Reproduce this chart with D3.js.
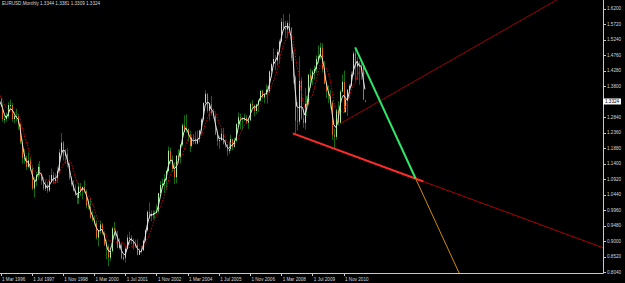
<!DOCTYPE html>
<html>
<head>
<meta charset="utf-8">
<script src="https://cdn.jsdelivr.net/npm/d3@7"></script>
<style>
  html, body { margin: 0; padding: 0; background: #000; }
  svg { display: block; }
  text { font-family: 'Liberation Sans', Arial, sans-serif; font-size: 4.6px; fill: #d8d8d8; }
</style>
</head>
<body>
<svg id="chart"></svg>
<script>
const title = 'EURUSD,Monthly  1.3344 1.3381 1.3309 1.3324'

// bar index 0 = Mar 1996, first bar in the arrays is Sep 1995
const firstIndex = -6

// monthly OHLC, Sep 1995 .. Oct 2011
const opens = [
  1.330, 1.368, 1.387, 1.358, // 1995
  1.358, 1.322, 1.340, 1.321, 1.278, 1.278, 1.287, 1.321, 1.321, 1.278, 1.287, 1.287, // 1996
  1.262, 1.207, 1.157, 1.157, 1.130, 1.150, 1.124, 1.063, 1.087, 1.105, 1.130, 1.105, // 1997
  1.087, 1.063, 1.075, 1.057, 1.087, 1.105, 1.087, 1.093, 1.118, 1.175, 1.205, 1.165, // 1998
  1.171, 1.1385, 1.0963, 1.0760, 1.0575, 1.0428, 1.0340, 1.0695, 1.0565, 1.0680, 1.0550, 1.0100, // 1999
  1.0065, 0.9720, 0.9660, 0.9565, 0.9110, 0.9330, 0.9525, 0.9255, 0.8895, 0.8830, 0.8490, 0.8700, // 2000
  0.9400, 0.9330, 0.9200, 0.8800, 0.8890, 0.8470, 0.8490, 0.8770, 0.9110, 0.9110, 0.9010, 0.8900, // 2001
  0.8900, 0.8580, 0.8700, 0.8720, 0.9020, 0.9340, 0.9910, 0.9780, 0.9810, 0.9870, 0.9880, 0.9920, // 2002
  1.0490, 1.0740, 1.0780, 1.0910, 1.1170, 1.1800, 1.1500, 1.1240, 1.0980, 1.1650, 1.1600, 1.1990, // 2003
  1.2590, 1.2470, 1.2470, 1.2300, 1.1950, 1.2200, 1.2170, 1.2020, 1.2170, 1.2430, 1.2770, 1.3280, // 2004
  1.3560, 1.3040, 1.3250, 1.2960, 1.2870, 1.2300, 1.2100, 1.2130, 1.2330, 1.2020, 1.1990, 1.1790, // 2005
  1.1850, 1.2160, 1.1920, 1.2110, 1.2630, 1.2830, 1.2790, 1.2770, 1.2820, 1.2670, 1.2740, 1.3250, // 2006
  1.3200, 1.3030, 1.3230, 1.3350, 1.3650, 1.3450, 1.3540, 1.3690, 1.3630, 1.4260, 1.4480, 1.4640, // 2007
  1.4590, 1.4860, 1.5180, 1.5790, 1.5600, 1.5550, 1.5750, 1.5600, 1.4670, 1.4080, 1.2730, 1.2700, // 2008
  1.3970, 1.2800, 1.2660, 1.3250, 1.3240, 1.4150, 1.4030, 1.4250, 1.4330, 1.4640, 1.4720, 1.4990, // 2009
  1.4320, 1.3870, 1.3630, 1.3510, 1.3300, 1.2290, 1.2230, 1.3050, 1.2670, 1.3630, 1.3930, 1.3000, // 2010
  1.3380, 1.3690, 1.3810, 1.4160, 1.4810, 1.4400, 1.4500, 1.4390, 1.4380, 1.3344 // 2011
]
const highs = [
  1.380, 1.405, 1.395, 1.372,
  1.365, 1.352, 1.345, 1.328, 1.292, 1.298, 1.330, 1.338, 1.328, 1.300, 1.310, 1.295,
  1.265, 1.215, 1.185, 1.165, 1.175, 1.160, 1.130, 1.098, 1.115, 1.140, 1.148, 1.112,
  1.098, 1.090, 1.085, 1.105, 1.125, 1.115, 1.110, 1.130, 1.185, 1.235, 1.210, 1.185,
  1.1886, 1.1440, 1.1000, 1.0890, 1.0760, 1.0500, 1.0800, 1.0800, 1.0700, 1.0880, 1.0600, 1.0300,
  1.0340, 0.9950, 0.9800, 0.9650, 0.9350, 0.9640, 0.9560, 0.9280, 0.9050, 0.8900, 0.8720, 0.9450,
  0.9593, 0.9400, 0.9330, 0.9100, 0.8950, 0.8600, 0.8850, 0.9200, 0.9300, 0.9190, 0.9080, 0.9050,
  0.9060, 0.8780, 0.8850, 0.9050, 0.9370, 0.9950, 1.0196, 0.9950, 0.9960, 0.9950, 1.0140, 1.0500,
  1.0860, 1.0940, 1.1080, 1.1200, 1.1933, 1.1900, 1.1650, 1.1450, 1.1650, 1.1850, 1.2000, 1.2648,
  1.2900, 1.2929, 1.2490, 1.2420, 1.2300, 1.2310, 1.2400, 1.2420, 1.2440, 1.2810, 1.3300, 1.3667,
  1.3580, 1.3280, 1.3500, 1.3100, 1.2950, 1.2460, 1.2260, 1.2500, 1.2510, 1.2160, 1.2000, 1.2090,
  1.2290, 1.2170, 1.2200, 1.2640, 1.2980, 1.2950, 1.2840, 1.2940, 1.2900, 1.2780, 1.3290, 1.3366,
  1.3230, 1.3250, 1.3380, 1.3680, 1.3680, 1.3550, 1.3850, 1.3800, 1.4280, 1.4530, 1.4967, 1.4760,
  1.4950, 1.5240, 1.5900, 1.6020, 1.5820, 1.5820, 1.6038, 1.5620, 1.4870, 1.4130, 1.3300, 1.4719,
  1.4070, 1.3050, 1.3738, 1.3500, 1.4180, 1.4340, 1.4300, 1.4440, 1.4750, 1.5060, 1.5144, 1.5130,
  1.4580, 1.3960, 1.3820, 1.3690, 1.3350, 1.2480, 1.3100, 1.3330, 1.3690, 1.4160, 1.4282, 1.3500,
  1.3700, 1.3860, 1.4250, 1.4880, 1.4940, 1.4698, 1.4580, 1.4549, 1.4420, 1.3381
]
const lows = [
  1.320, 1.360, 1.350, 1.345,
  1.310, 1.315, 1.315, 1.270, 1.265, 1.270, 1.280, 1.305, 1.270, 1.265, 1.270, 1.245,
  1.200, 1.140, 1.140, 1.120, 1.125, 1.118, 1.058, 1.035, 1.070, 1.090, 1.100, 1.075,
  1.058, 1.055, 1.050, 1.052, 1.080, 1.078, 1.078, 1.080, 1.110, 1.160, 1.150, 1.140,
  1.1290, 1.0890, 1.0700, 1.0540, 1.0400, 1.0150, 1.0150, 1.0400, 1.0300, 1.0500, 1.0020, 0.9990,
  0.9700, 0.9600, 0.9500, 0.9050, 0.8844, 0.9230, 0.9200, 0.8850, 0.8450, 0.8228, 0.8400, 0.8650,
  0.9150, 0.9050, 0.8780, 0.8740, 0.8440, 0.8400, 0.8344, 0.8750, 0.8900, 0.8900, 0.8750, 0.8800,
  0.8564, 0.8580, 0.8620, 0.8700, 0.8990, 0.9300, 0.9690, 0.9620, 0.9670, 0.9700, 0.9860, 0.9870,
  1.0350, 1.0670, 1.0500, 1.0630, 1.1160, 1.1400, 1.1150, 1.0770, 1.0800, 1.1560, 1.1400, 1.1930,
  1.2380, 1.2360, 1.2080, 1.1760, 1.1900, 1.2000, 1.2000, 1.2000, 1.2060, 1.2300, 1.2700, 1.3200,
  1.2980, 1.2730, 1.2880, 1.2790, 1.2300, 1.1950, 1.1860, 1.2100, 1.1990, 1.1880, 1.1640, 1.1700,
  1.1800, 1.1820, 1.1900, 1.2060, 1.2600, 1.2460, 1.2450, 1.2720, 1.2630, 1.2480, 1.2730, 1.3100,
  1.2860, 1.2940, 1.3000, 1.3320, 1.3410, 1.3270, 1.3530, 1.3260, 1.3580, 1.4070, 1.4450, 1.4290,
  1.4440, 1.4510, 1.5140, 1.5520, 1.5290, 1.5300, 1.5550, 1.4580, 1.3880, 1.2330, 1.2420, 1.2600,
  1.2760, 1.2510, 1.2456, 1.2880, 1.3200, 1.3750, 1.3840, 1.4000, 1.4200, 1.4500, 1.4630, 1.4220,
  1.3860, 1.3430, 1.3270, 1.3110, 1.2140, 1.1876, 1.2150, 1.2580, 1.2640, 1.3600, 1.2970, 1.2970,
  1.2870, 1.3440, 1.3750, 1.4120, 1.3970, 1.4000, 1.3840, 1.4000, 1.3362, 1.3309
]
const closes = [
  1.368, 1.387, 1.358, 1.358,
  1.322, 1.340, 1.321, 1.278, 1.278, 1.287, 1.321, 1.321, 1.278, 1.287, 1.287, 1.262,
  1.207, 1.157, 1.157, 1.130, 1.150, 1.124, 1.063, 1.087, 1.105, 1.130, 1.105, 1.087,
  1.063, 1.075, 1.057, 1.087, 1.105, 1.087, 1.093, 1.118, 1.175, 1.205, 1.165, 1.171,
  1.1385, 1.0963, 1.0760, 1.0575, 1.0428, 1.0340, 1.0695, 1.0565, 1.0680, 1.0550, 1.0100, 1.0065,
  0.9720, 0.9660, 0.9565, 0.9110, 0.9330, 0.9525, 0.9255, 0.8895, 0.8830, 0.8490, 0.8700, 0.9400,
  0.9330, 0.9200, 0.8800, 0.8890, 0.8470, 0.8490, 0.8770, 0.9110, 0.9110, 0.9010, 0.8900, 0.8900,
  0.8580, 0.8700, 0.8720, 0.9020, 0.9340, 0.9910, 0.9780, 0.9810, 0.9870, 0.9880, 0.9920, 1.0490,
  1.0740, 1.0780, 1.0910, 1.1170, 1.1800, 1.1500, 1.1240, 1.0980, 1.1650, 1.1600, 1.1990, 1.2590,
  1.2470, 1.2470, 1.2300, 1.1950, 1.2200, 1.2170, 1.2020, 1.2170, 1.2430, 1.2770, 1.3280, 1.3560,
  1.3040, 1.3250, 1.2960, 1.2870, 1.2300, 1.2100, 1.2130, 1.2330, 1.2020, 1.1990, 1.1790, 1.1850,
  1.2160, 1.1920, 1.2110, 1.2630, 1.2830, 1.2790, 1.2770, 1.2820, 1.2670, 1.2740, 1.3250, 1.3200,
  1.3030, 1.3230, 1.3350, 1.3650, 1.3450, 1.3540, 1.3690, 1.3630, 1.4260, 1.4480, 1.4640, 1.4590,
  1.4860, 1.5180, 1.5790, 1.5600, 1.5550, 1.5750, 1.5600, 1.4670, 1.4080, 1.2730, 1.2700, 1.3970,
  1.2800, 1.2660, 1.3250, 1.3240, 1.4150, 1.4030, 1.4250, 1.4330, 1.4640, 1.4720, 1.4990, 1.4320,
  1.3870, 1.3630, 1.3510, 1.3300, 1.2290, 1.2230, 1.3050, 1.2670, 1.3630, 1.3930, 1.3000, 1.3380,
  1.3690, 1.3810, 1.4160, 1.4810, 1.4400, 1.4500, 1.4390, 1.4380, 1.3390, 1.3324
]
const currentPrice = 1.3324

// moving average periods (white = fast, red dotted = slow)
const fastPeriod = 3
const slowPeriod = 7

// time axis labels and their bar index
const dateLabels = ['1 Mar 1996', '1 Jul 1997', '1 Nov 1998', '1 Mar 2000', '1 Jul 2001', '1 Nov 2002',
  '1 Mar 2004', '1 Jul 2005', '1 Nov 2006', '1 Mar 2008', '1 Jul 2009', '1 Nov 2010']
const dateIndex = [0, 16, 32, 48, 64, 80, 96, 112, 128, 144, 160, 176]

// price axis labels (1.3320 sits under the current price box, so it is not shown)
const priceTicks = [1.6200, 1.5720, 1.5240, 1.4760, 1.4280, 1.3800, 1.2840, 1.2360, 1.1880,
  1.1400, 1.0920, 1.0440, 0.9960, 0.9480, 0.9000, 0.8520, 0.8040]

// drawn trend lines, [bar index, price]
const supportThick = [[150, 1.2339], [217, 1.0849]]
const supportThin = [[217, 1.0849], [310, 0.8781]]
const fallLine = [[182, 1.5000], [213, 1.0941]]
const fallRay = [[213, 1.0941], [236, 0.7930]]
const riseLine = [[174, 1.2627], [290, 1.6624]]

const width = 625, height = 283
const plotRight = 603, plotBottom = 273

let svg = d3.select('#chart')
  .attr('width', width)
  .attr('height', height)
  .style('background', '#000')

let x = d3.scaleLinear().domain([0, 176]).range([0.5, 343.5])
let y = d3.scaleLinear().domain([0.8040, 1.6200]).range([272.3, 8.5])

svg.append('clipPath').attr('id', 'plot')
  .append('rect').attr('x', 0).attr('y', 0).attr('width', plotRight).attr('height', plotBottom)

let bars = closes.map((c, i) => ({
  i: i + firstIndex,
  o: opens[i], h: highs[i], l: lows[i], c: c
}))

let plot = svg.append('g').attr('clip-path', 'url(#plot)')

// wicks
plot.selectAll('line.wick')
  .data(bars)
  .enter()
  .append('line')
  .attr('class', 'wick')
  .attr('x1', d => Math.round(x(d.i)) + 0.5)
  .attr('x2', d => Math.round(x(d.i)) + 0.5)
  .attr('y1', d => y(d.h))
  .attr('y2', d => y(d.l))
  .attr('stroke', '#0f6a12')
  .attr('stroke-width', 1)

// bodies
plot.selectAll('rect.body')
  .data(bars)
  .enter()
  .append('rect')
  .attr('class', 'body')
  .attr('x', d => Math.round(x(d.i)))
  .attr('y', d => y(Math.max(d.o, d.c)))
  .attr('width', 1)
  .attr('height', d => Math.max(1, Math.abs(y(d.o) - y(d.c))))
  .attr('fill', d => d.c >= d.o ? '#a8eca0' : '#e0621c')

// simple moving average of closes
function sma (period) {
  let out = []
  closes.forEach((c, i) => {
    if (i >= period - 1) {
      out.push({ i: i + firstIndex, v: d3.mean(closes.slice(i - period + 1, i + 1)) })
    }
  })
  return out
}

let maLine = d3.line().x(d => x(d.i)).y(d => y(d.v))

plot.append('path')
  .datum(sma(slowPeriod))
  .attr('d', maLine)
  .attr('fill', 'none')
  .attr('stroke', '#d40000')
  .attr('stroke-width', 1)
  .attr('stroke-dasharray', '1.5,1.5')

plot.append('path')
  .datum(sma(fastPeriod))
  .attr('d', maLine)
  .attr('fill', 'none')
  .attr('stroke', '#e4e4e4')
  .attr('stroke-width', 1)

// trend lines
let segLine = d3.line().x(d => x(d[0])).y(d => y(d[1]))
function drawSeg (pts, color, w) {
  plot.append('path')
    .datum(pts)
    .attr('d', segLine)
    .attr('fill', 'none')
    .attr('stroke', color)
    .attr('stroke-width', w)
}
drawSeg(riseLine, '#a00000', 1)
drawSeg(supportThin, '#b00000', 1)
drawSeg(fallRay, '#d08a00', 1)
drawSeg(supportThick, '#ff2b2b', 2)
drawSeg(fallLine, '#2ee86a', 2)

// frame
svg.append('line')
  .attr('x1', plotRight + 0.5).attr('x2', plotRight + 0.5)
  .attr('y1', 0).attr('y2', plotBottom + 0.5)
  .attr('stroke', '#c8c8c8')
svg.append('line')
  .attr('x1', 0).attr('x2', plotRight + 0.5)
  .attr('y1', plotBottom + 0.5).attr('y2', plotBottom + 0.5)
  .attr('stroke', '#c8c8c8')

// price axis
let priceAxis = svg.append('g')
priceAxis.selectAll('line')
  .data(priceTicks)
  .enter()
  .append('line')
  .attr('x1', plotRight + 1).attr('x2', plotRight + 3)
  .attr('y1', d => Math.round(y(d)) + 0.5)
  .attr('y2', d => Math.round(y(d)) + 0.5)
  .attr('stroke', '#c8c8c8')
priceAxis.selectAll('text')
  .data(priceTicks)
  .enter()
  .append('text')
  .attr('x', plotRight + 4)
  .attr('y', d => y(d) + 1.7)
  .text(d => d.toFixed(4))

// current price box
svg.append('rect')
  .attr('x', plotRight)
  .attr('y', y(currentPrice) - 3)
  .attr('width', 18)
  .attr('height', 6)
  .attr('fill', '#fff')
svg.append('text')
  .attr('x', plotRight + 2)
  .attr('y', y(currentPrice) + 1.7)
  .style('fill', '#000')
  .text(currentPrice.toFixed(4))

// time axis
let timeAxis = svg.append('g')
timeAxis.selectAll('line')
  .data(dateIndex)
  .enter()
  .append('line')
  .attr('x1', d => Math.round(x(d)) + 0.5)
  .attr('x2', d => Math.round(x(d)) + 0.5)
  .attr('y1', plotBottom)
  .attr('y2', plotBottom + 3)
  .attr('stroke', '#c8c8c8')
timeAxis.selectAll('text')
  .data(dateLabels)
  .enter()
  .append('text')
  .attr('x', (d, i) => x(dateIndex[i]) + 1.5)
  .attr('y', 281)
  .text(d => d)

// title
svg.append('text')
  .attr('x', 2)
  .attr('y', 4.5)
  .text(title)
</script>
</body>
</html>
